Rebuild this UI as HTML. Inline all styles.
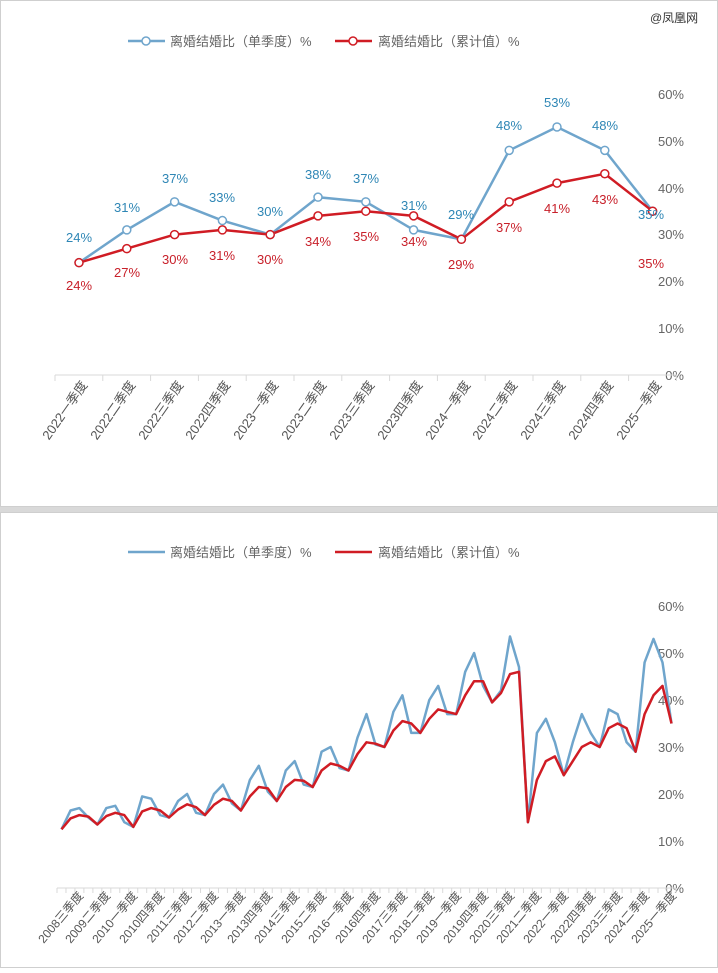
<!DOCTYPE html>
<html><head><meta charset="utf-8"><style>
body{margin:0;background:#fff;width:718px;height:968px;overflow:hidden;font-family:"Liberation Sans","Noto Sans CJK SC",sans-serif}
</style></head><body>
<svg id="s" width="718" height="968" xmlns="http://www.w3.org/2000/svg" font-family="Liberation Sans, Noto Sans CJK SC, sans-serif">
<rect x="0.5" y="0.5" width="717" height="506" fill="#fff" stroke="#cfcfcf"/>
<rect x="0" y="507" width="718" height="5" fill="#d9d9d9"/>
<rect x="0.5" y="512.5" width="717" height="455" fill="#fff" stroke="#cfcfcf"/>
<text x="650" y="22" font-size="12" fill="#333">@凤凰网</text>
<line x1="128" y1="41" x2="165" y2="41" stroke="#6fa5cc" stroke-width="2.5"/><circle cx="146" cy="41" r="4" fill="#fff" stroke="#6fa5cc" stroke-width="1.5"/>
<text x="170" y="46" font-size="13" fill="#666">离婚结婚比（单季度）%</text>
<line x1="335" y1="41" x2="372" y2="41" stroke="#d01c24" stroke-width="2.5"/><circle cx="353" cy="41" r="4" fill="#fff" stroke="#d01c24" stroke-width="1.5"/>
<text x="378" y="46" font-size="13" fill="#666">离婚结婚比（累计值）%</text>
<g font-size="13" fill="#666" text-anchor="end">
<text x="684" y="99">60%</text><text x="684" y="146">50%</text><text x="684" y="193">40%</text><text x="684" y="239">30%</text><text x="684" y="286">20%</text><text x="684" y="333">10%</text><text x="684" y="380">0%</text></g>
<line x1="55" y1="375" x2="677" y2="375" stroke="#d9d9d9"/>
<g id="tt"></g>
<g font-size="13" fill="#555" text-anchor="end">
<text transform="translate(88,385) rotate(-55)">2022一季度</text>
<text transform="translate(136,385) rotate(-55)">2022二季度</text>
<text transform="translate(184,385) rotate(-55)">2022三季度</text>
<text transform="translate(231,385) rotate(-55)">2022四季度</text>
<text transform="translate(279,385) rotate(-55)">2023一季度</text>
<text transform="translate(327,385) rotate(-55)">2023二季度</text>
<text transform="translate(375,385) rotate(-55)">2023三季度</text>
<text transform="translate(423,385) rotate(-55)">2023四季度</text>
<text transform="translate(471,385) rotate(-55)">2024一季度</text>
<text transform="translate(518,385) rotate(-55)">2024二季度</text>
<text transform="translate(566,385) rotate(-55)">2024三季度</text>
<text transform="translate(614,385) rotate(-55)">2024四季度</text>
<text transform="translate(662,385) rotate(-55)">2025一季度</text>
</g>
<g id="topg"></g>
<line x1="128" y1="552" x2="165" y2="552" stroke="#6fa5cc" stroke-width="2.5"/>
<text x="170" y="557" font-size="13" fill="#666">离婚结婚比（单季度）%</text>
<line x1="335" y1="552" x2="372" y2="552" stroke="#d01c24" stroke-width="2.5"/>
<text x="378" y="557" font-size="13" fill="#666">离婚结婚比（累计值）%</text>
<g font-size="13" fill="#666" text-anchor="end">
<text x="684" y="611">60%</text><text x="684" y="658">50%</text><text x="684" y="705">40%</text><text x="684" y="752">30%</text><text x="684" y="799">20%</text><text x="684" y="846">10%</text><text x="684" y="893">0%</text></g>
<line x1="57" y1="888" x2="676" y2="888" stroke="#d9d9d9"/>
<g id="bt"></g>
<g font-size="12" fill="#555" text-anchor="end">
<text transform="translate(84,896) rotate(-50)">2008三季度</text>
<text transform="translate(111,896) rotate(-50)">2009二季度</text>
<text transform="translate(138,896) rotate(-50)">2010一季度</text>
<text transform="translate(165,896) rotate(-50)">2010四季度</text>
<text transform="translate(192,896) rotate(-50)">2011三季度</text>
<text transform="translate(219,896) rotate(-50)">2012二季度</text>
<text transform="translate(246,896) rotate(-50)">2013一季度</text>
<text transform="translate(273,896) rotate(-50)">2013四季度</text>
<text transform="translate(300,896) rotate(-50)">2014三季度</text>
<text transform="translate(327,896) rotate(-50)">2015二季度</text>
<text transform="translate(354,896) rotate(-50)">2016一季度</text>
<text transform="translate(381,896) rotate(-50)">2016四季度</text>
<text transform="translate(408,896) rotate(-50)">2017三季度</text>
<text transform="translate(435,896) rotate(-50)">2018二季度</text>
<text transform="translate(462,896) rotate(-50)">2019一季度</text>
<text transform="translate(489,896) rotate(-50)">2019四季度</text>
<text transform="translate(515,896) rotate(-50)">2020三季度</text>
<text transform="translate(542,896) rotate(-50)">2021二季度</text>
<text transform="translate(569,896) rotate(-50)">2022一季度</text>
<text transform="translate(596,896) rotate(-50)">2022四季度</text>
<text transform="translate(623,896) rotate(-50)">2023三季度</text>
<text transform="translate(650,896) rotate(-50)">2024二季度</text>
<text transform="translate(677,896) rotate(-50)">2025一季度</text>
</g>
<g id="botg"></g>
<g font-size="13" text-anchor="middle" fill="#2e86b5">
<text x="79" y="242">24%</text><text x="127" y="212">31%</text><text x="175" y="183">37%</text><text x="222" y="202">33%</text><text x="270" y="216">30%</text><text x="318" y="179">38%</text><text x="366" y="183">37%</text><text x="414" y="210">31%</text><text x="461" y="219">29%</text><text x="509" y="130">48%</text><text x="557" y="107">53%</text><text x="605" y="130">48%</text><text x="651" y="219">35%</text></g>
<g font-size="13" text-anchor="middle" fill="#c8202a">
<text x="79" y="290">24%</text><text x="127" y="277">27%</text><text x="175" y="264">30%</text><text x="222" y="260">31%</text><text x="270" y="264">30%</text><text x="318" y="246">34%</text><text x="366" y="241">35%</text><text x="414" y="246">34%</text><text x="461" y="269">29%</text><text x="509" y="232">37%</text><text x="557" y="213">41%</text><text x="605" y="204">43%</text><text x="651" y="268">35%</text></g>
</svg>
<script>
(function(){
var NS="http://www.w3.org/2000/svg";
function el(p,n,a){var e=document.createElementNS(NS,n);for(var k in a)e.setAttribute(k,a[k]);p.appendChild(e);return e;}
function pts(a,x0,dx,y0,k){return a.map(function(v,i){return (x0+dx*i).toFixed(1)+","+(y0-k*v).toFixed(1)}).join(" ");}
var tb=[24,31,37,33,30,38,37,31,29,48,53,48,35],tr=[24,27,30,31,30,34,35,34,29,37,41,43,35];
var tg=document.getElementById("topg"),tt=document.getElementById("tt");
for(var i=0;i<=13;i++)el(tt,"line",{x1:55+47.8*i,y1:375,x2:55+47.8*i,y2:381,stroke:"#d9d9d9"});
el(tg,"polyline",{points:pts(tb,79,47.8,375,4.68),fill:"none",stroke:"#6fa5cc","stroke-width":2.5});
el(tg,"polyline",{points:pts(tr,79,47.8,375,4.68),fill:"none",stroke:"#d01c24","stroke-width":2.5});
tb.forEach(function(v,i){el(tg,"circle",{cx:79+47.8*i,cy:375-4.68*v,r:4,fill:"#fff",stroke:"#6fa5cc","stroke-width":1.5});});
tr.forEach(function(v,i){el(tg,"circle",{cx:79+47.8*i,cy:375-4.68*v,r:4,fill:"#fff",stroke:"#d01c24","stroke-width":1.5});});
var bb=[12.5,16.5,17,15,13.5,17,17.5,14,13,19.5,19,15.5,15,18.5,20,16,15.5,20,22,18,16.5,23,26,20.5,18.5,25,27,22,21.5,29,30,25.5,25,32,37,30.5,30,37.5,41,33,33,40,43,37,37,46,50,43,39.5,42,53.5,47,14,33,36,31,24,31,37,33,30,38,37,31,29,48,53,48,35];
var br=[12.5,14.8,15.5,15.2,13.5,15.3,16,15.5,13,16.3,17,16.5,15,16.7,17.8,17.2,15.5,17.7,19,18.5,16.5,19.5,21.5,21.2,18.5,21.5,23,22.8,21.5,25,26.5,26,25,28.5,31,30.7,30,33.5,35.5,35,33,36,38,37.5,37,41,44,44,39.5,41.5,45.5,46,14,23,27,28,24,27,30,31,30,34,35,34,29,37,41,43,35];
var bg=document.getElementById("botg"),bt=document.getElementById("bt");
for(var j=0;j<=69;j++)el(bt,"line",{x1:57+8.97*j,y1:888,x2:57+8.97*j,y2:893,stroke:"#d9d9d9"});
el(bg,"polyline",{points:pts(bb,61.5,8.97,888,4.7),fill:"none",stroke:"#6fa5cc","stroke-width":2.5,"stroke-linejoin":"round"});
el(bg,"polyline",{points:pts(br,61.5,8.97,888,4.7),fill:"none",stroke:"#d01c24","stroke-width":2.5,"stroke-linejoin":"round"});
})();
</script>
</body></html>
